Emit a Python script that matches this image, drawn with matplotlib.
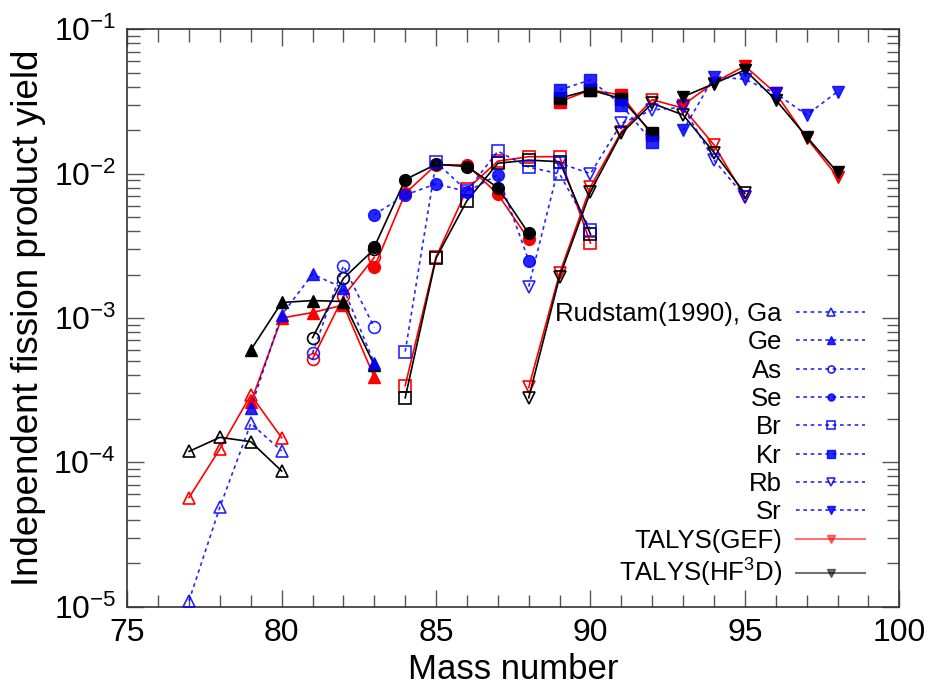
import matplotlib
matplotlib.use("Agg")
import matplotlib.pyplot as plt
from matplotlib.lines import Line2D
from matplotlib.ticker import LogLocator, MultipleLocator, NullFormatter

plt.rcParams['font.family'] = ['Liberation Sans', 'DejaVu Sans']
plt.rcParams['mathtext.fontset'] = 'custom'
plt.rcParams['mathtext.rm'] = 'Liberation Sans'
plt.rcParams['mathtext.it'] = 'Liberation Sans:italic'
plt.rcParams['mathtext.bf'] = 'Liberation Sans:bold'

# ---------------- data ----------------
A_ga = [77, 78, 79, 80]
ga_exp = [1.1e-5, 4.9e-5, 1.86e-4, 1.2e-4]
ga_gef = [5.7e-5, 1.24e-4, 2.93e-4, 1.48e-4]
ga_hf = [1.19e-4, 1.49e-4, 1.39e-4, 8.7e-5]

A_ge = [79, 80, 81, 82, 83]
ge_exp = [2.37e-4, 1.05e-3, 2.01e-3, 1.61e-3, 4.85e-4]
ge_gef = [2.6e-4, 1.0e-3, 1.09e-3, 1.23e-3, 3.88e-4]
ge_hf = [6.0e-4, 1.28e-3, 1.32e-3, 1.30e-3, 4.72e-4]

A_as = [81, 82, 83]
as_exp = [5.7e-4, 2.3e-3, 8.6e-4]
as_gef = [5.2e-4, 1.41e-3, 2.63e-3]
as_hf = [7.3e-4, 1.88e-3, 3.0e-3]

A_se = [83, 84, 85, 86, 87, 88]
se_exp = [5.2e-3, 7.1e-3, 8.5e-3, 7.5e-3, 9.8e-3, 2.5e-3]
se_gef = [2.25e-3, 7.3e-3, 1.15e-2, 1.15e-2, 7.2e-3, 3.5e-3]
se_hf = [3.1e-3, 9.1e-3, 1.16e-2, 1.12e-2, 8.0e-3, 3.85e-3]

A_br = [84, 85, 86, 87, 88, 89, 90]
br_exp = [5.85e-4, 1.2e-2, 7.6e-3, 1.43e-2, 1.11e-2, 9.95e-3, 4.1e-3]
br_gef = [3.4e-4, 2.65e-3, 7.8e-3, 1.22e-2, 1.31e-2, 1.31e-2, 3.3e-3]
br_hf = [2.8e-4, 2.6e-3, 6.5e-3, 1.18e-2, 1.24e-2, 1.21e-2, 3.8e-3]

A_kr = [89, 90, 91, 92]
kr_exp = [3.8e-2, 4.46e-2, 2.99e-2, 1.66e-2]
kr_gef = [3.15e-2, 3.8e-2, 3.5e-2, 1.85e-2]
kr_hf = [3.33e-2, 3.8e-2, 3.3e-2, 1.9e-2]

A_rb = [88, 89, 90, 91, 92, 93, 94, 95]
rb_exp = [1.65e-3, 1.18e-2, 1.0e-2, 2.23e-2, 2.76e-2, 2.88e-2, 1.24e-2, 6.9e-3]
rb_gef = [3.3e-4, 2.04e-3, 8.1e-3, 1.95e-2, 3.25e-2, 2.84e-2, 1.58e-2, 6.9e-3]
rb_hf = [2.8e-4, 1.93e-3, 7.5e-3, 1.9e-2, 3.07e-2, 2.55e-2, 1.4e-2, 7.3e-3]

A_sr = [93, 94, 95, 96, 97, 98]
sr_exp = [1.99e-2, 4.7e-2, 4.5e-2, 3.6e-2, 2.55e-2, 3.7e-2]
sr_gef = [2.99e-2, 4.27e-2, 5.57e-2, 3.6e-2, 1.76e-2, 9.5e-3]
sr_hf = [3.41e-2, 4.2e-2, 5.22e-2, 3.24e-2, 1.8e-2, 1.02e-2]

elements = ["Ga", "Ge", "As", "Se", "Br", "Kr", "Rb", "Sr"]
legend_labels = ["Rudstam(1990), Ga", "Ge", "As", "Se", "Br", "Kr", "Rb", "Sr",
                 "TALYS(GEF)", "TALYS(HF$^{3}$D)"]

series = [
    (A_ga, ga_exp, ga_gef, ga_hf, '^', False),
    (A_ge, ge_exp, ge_gef, ge_hf, '^', True),
    (A_as, as_exp, as_gef, as_hf, 'o', False),
    (A_se, se_exp, se_gef, se_hf, 'o', True),
    (A_br, br_exp, br_gef, br_hf, 's', False),
    (A_kr, kr_exp, kr_gef, kr_hf, 's', True),
    (A_rb, rb_exp, rb_gef, rb_hf, 'v', False),
    (A_sr, sr_exp, sr_gef, sr_hf, 'v', True),
]

BLUE = '#0000ff'
RED = '#ff0000'
BLACK = '#000000'

fig = plt.figure(figsize=(9.33, 6.92), dpi=100)
ax = fig.add_axes([0.1364, 0.1233, 0.8275, 0.8344])

def mstyle(color, filled):
    if filled:
        return dict(markerfacecolor=color, markeredgecolor=color)
    return dict(markerfacecolor='none', markeredgecolor=color, markeredgewidth=1.2)

ms = 8.5
for A, e, g, h, mk, filled in series:
    ax.plot(A, g, color=RED, lw=1.2, marker=mk, ms=ms, zorder=2, **mstyle(RED, filled))
for A, e, g, h, mk, filled in series:
    ax.plot(A, h, color=BLACK, lw=1.2, marker=mk, ms=ms, zorder=3, **mstyle(BLACK, filled))
handles = []
for (A, e, g, h, mk, filled), el in zip(series, elements):
    ln, = ax.plot(A, e, color=BLUE, lw=1.2, ls=(0, (2.2, 2.2)), marker=mk, ms=ms,
                  zorder=4, alpha=0.85, **mstyle(BLUE, filled))
    handles.append(ln)

handles.append(Line2D([], [], color=RED, lw=1.5, alpha=0.55, marker='v', ms=ms,
                      markerfacecolor=RED, markeredgecolor=RED))
handles.append(Line2D([], [], color=BLACK, lw=1.5, alpha=0.55, marker='v', ms=ms,
                      markerfacecolor=BLACK, markeredgecolor=BLACK))

ax.set_yscale('log')
ax.set_xlim(75, 100)
ax.set_ylim(1e-5, 1e-1)
ax.xaxis.set_major_locator(MultipleLocator(5))
ax.xaxis.set_minor_locator(MultipleLocator(1))
ax.yaxis.set_major_locator(LogLocator(base=10, numticks=10))
ax.yaxis.set_minor_locator(LogLocator(base=10, subs=range(2, 10), numticks=20))
ax.yaxis.set_minor_formatter(NullFormatter())

ax.tick_params(which='both', direction='in', top=True, right=True, colors='#555555',
               labelcolor='black', labelsize=23)
ax.tick_params(which='major', length=12, width=1.0, pad=8)
ax.tick_params(which='minor', length=9, width=1.0)
for s in ax.spines.values():
    s.set_color('#333333')
    s.set_linewidth(1.2)

ax.set_xlabel('Mass number', fontsize=25, labelpad=4)
ax.set_ylabel('Independent fission product yield', fontsize=26.5, labelpad=5)

leg = ax.legend(handles, legend_labels, loc='lower right', bbox_to_anchor=(0.956, 0.03),
                frameon=False, markerfirst=False, fontsize=18.5, handlelength=2.7,
                handletextpad=0.55, labelspacing=0.17, markerscale=0.6,
                borderaxespad=0, borderpad=0)

fig.savefig('out.png', dpi=100)
